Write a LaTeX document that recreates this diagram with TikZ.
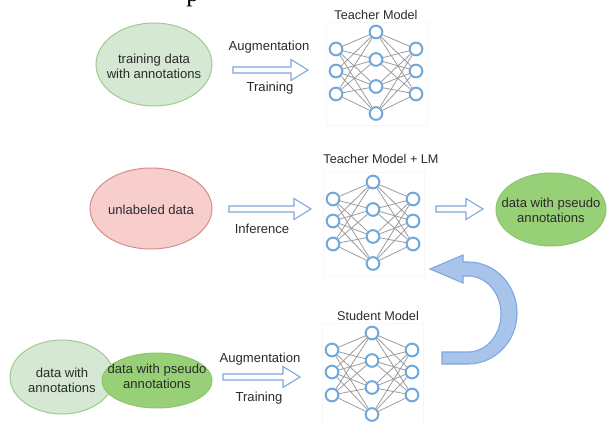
\documentclass[tikz,border=0pt]{standalone}
\usepackage{fontspec}
\setmainfont{Liberation Sans}
\newfontfamily\capserif{Liberation Serif}
\usetikzlibrary{shapes.geometric}
\definecolor{lgfill}{HTML}{D5E8D4}
\definecolor{lgline}{HTML}{A2C98F}
\definecolor{rdfill}{HTML}{F8CECC}
\definecolor{rdline}{HTML}{D58E8B}
\definecolor{mgfill}{HTML}{97D077}
\definecolor{mgline}{HTML}{8CC56E}
\definecolor{nodeblue}{HTML}{6FA8DC}
\definecolor{arrblue}{HTML}{7EA6E0}
\definecolor{bandfill}{HTML}{A9C4EB}
\definecolor{txt}{HTML}{2B2B2B}
\definecolor{edgegray}{HTML}{9C9C9C}
\tikzset{
  ell/.style={ellipse, inner sep=0pt, line width=0.75pt},
  lightell/.style={ell, fill=lgfill, draw=lgline},
  redell/.style={ell, fill=rdfill, draw=rdline},
  midell/.style={ell, fill=mgfill, draw=mgline},
  lbl/.style={font=\fontsize{9.8}{11}\selectfont, text=txt, align=center, inner sep=0pt},
  ttl/.style={font=\fontsize{9.5}{11}\selectfont, text=txt, inner sep=0pt},
  neuron/.style={circle, draw=nodeblue, line width=1.5pt, fill=white, minimum size=9.5pt, inner sep=0pt},
  synapse/.style={draw=edgegray, line width=0.6pt},
  netframe/.style={draw=black!3, line width=0.4pt},
  blockarrow/.style={draw=arrblue, fill=white, line width=0.8pt, line join=miter},
  band/.style={draw=arrblue, fill=bandfill, line width=0.8pt, line join=miter},
  nnet/.pic={
    \draw[netframe] (-50,-10) rectangle (51,93);
    \foreach \i/\yy in {1/17,2/39,3/62} {
      \node[neuron] (-l\i) at (-40,\yy) {};
      \node[neuron] (-r\i) at (40,\yy) {};
    }
    \foreach \j/\yy in {1/0,2/27.5,3/54.5,4/81.5} {
      \node[neuron] (-m\j) at (0,\yy) {};
    }
    \foreach \i in {1,2,3} {
      \foreach \j in {1,2,3,4} {
        \draw[synapse] (-l\i) -- (-m\j);
        \draw[synapse] (-m\j) -- (-r\i);
      }
    }
  },
  barrow/.pic={
    \draw[blockarrow] (0,-3) -- ({#1-17},-3) -- ({#1-17},-10.5) -- (#1,0)
      -- ({#1-17},10.5) -- ({#1-17},3) -- (0,3) -- cycle;
  }
}
\begin{document}
\begin{tikzpicture}[x=0.75pt, y=-0.75pt]
\useasboundingbox (0,0) rectangle (607,424);
\fill[white] (0,0) rectangle (607,424);
\clip (0,0) rectangle (607,424);

% caption fragment at the top edge
\node[anchor=base west, inner sep=0pt, text=black, font=\capserif\fontsize{19}{20}\selectfont] (capfrag) at (186,1.5) {p};

% ---------- row 1 ----------
\node[lightell, minimum width=87pt, minimum height=62.25pt] (train) at (154,64.5) {};
\node[lbl] (trainlbl) at (154,66) {training data\\with annotations};
\pic (arrA) at (233,70) {barrow=75};
\node[lbl] (augA) at (269,47) {Augmentation};
\node[lbl] (trA) at (270,88) {Training};
\node[ttl] (tmA) at (376,15) {Teacher Model};
\pic (netA) at (376,32) {nnet};

% ---------- row 2 ----------
\node[redell, minimum width=91.5pt, minimum height=60.75pt] (unl) at (151,208.5) {};
\node[lbl] (unllbl) at (151,210) {unlabeled data};
\pic (arrB) at (229,209) {barrow=82};
\node[lbl] (inf) at (262,229) {Inference};
\node[ttl] (tmB) at (381,159) {Teacher Model + LM};
\pic (netB) at (373,182) {nnet};
\pic (arrC) at (436,209) {barrow=47};
\node[midell, minimum width=82.5pt, minimum height=54.75pt] (pseudo) at (551,209.5) {};
\node[lbl] (pseudolbl) at (551,210) {data with pseudo\\annotations};

% ---------- curved feedback arrow ----------
\draw[band] (442,364) -- (468,364)
  -- plot[domain=90:-90, samples=60] ({468+49*cos(\x)}, {313+51*sin(\x)})
  -- (463,262) -- (463,255) -- (430,269) -- (463,283) -- (463,276) -- (468,276)
  -- plot[domain=-90:90, samples=60] ({468+33*cos(\x)}, {314+38*sin(\x)})
  -- (442,352) -- cycle;

% ---------- row 3 ----------
\node[lightell, minimum width=78pt, minimum height=55.5pt] (ann) at (62,377) {};
\node[lbl] (annlbl) at (62,380) {data with\\annotations};
\node[midell, minimum width=82.5pt, minimum height=41.25pt] (pseudoB) at (157,380.5) {};
\node[lbl] (pseudoBlbl) at (157,376) {data with pseudo\\annotations};
\pic (arrD) at (223,377) {barrow=77};
\node[lbl] (augD) at (260,359) {Augmentation};
\node[lbl] (trD) at (259,398) {Training};
\node[ttl] (sm) at (378,316) {Student Model};
\pic (netC) at (372,333) {nnet};
\end{tikzpicture}
\end{document}
